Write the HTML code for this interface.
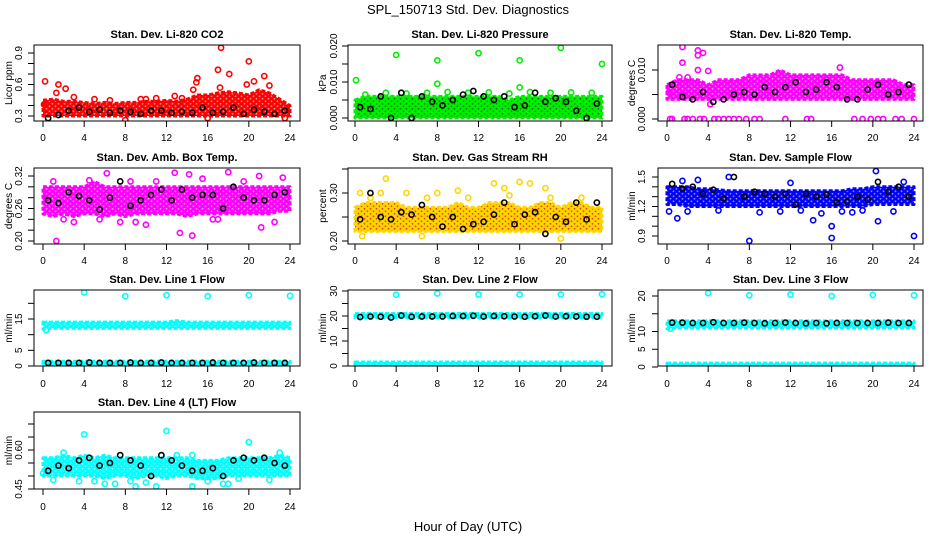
<!DOCTYPE html>
<html><head><meta charset="utf-8">
<style>
body{margin:0;background:#fff;}
svg{display:block;font-family:"Liberation Sans",sans-serif;}
</style></head>
<body>
<svg id="c" width="936" height="540" viewBox="0 0 936 540">
<defs id="defs"></defs>
<text x="468" y="14" text-anchor="middle" font-size="13">SPL_150713  Std. Dev. Diagnostics</text>
<text x="468" y="531" text-anchor="middle" font-size="13">Hour of Day (UTC)</text>
</svg>
<script>
// ---- data (hours 0..24 for bands; black points at 0.5..23.5) ----
const bandHours = [0,1,2,3,4,5,6,7,8,9,10,11,12,13,14,15,16,17,18,19,20,21,22,23,24];
const blackHours = [0.5,1.5,2.5,3.5,4.5,5.5,6.5,7.5,8.5,9.5,10.5,11.5,12.5,13.5,14.5,15.5,16.5,17.5,18.5,19.5,20.5,21.5,22.5,23.5];

const co2Lo = [0.30,0.30,0.30,0.30,0.30,0.30,0.30,0.30,0.30,0.30,0.30,0.30,0.30,0.30,0.30,0.30,0.30,0.30,0.30,0.30,0.30,0.30,0.30,0.30,0.30];
const co2Hi = [0.45,0.46,0.44,0.44,0.43,0.42,0.43,0.42,0.43,0.43,0.44,0.44,0.45,0.44,0.46,0.50,0.50,0.52,0.53,0.52,0.50,0.55,0.52,0.46,0.40];
const co2OutX = [0.2,1.5,2.2,1.3,12.8,14.6,15,14.9,17,17.3,18.1,19.8,20,20.5,21.5,17.2,22,8,16,23.5,0.1,11,5,9.5,3,6.5,10,13.5];
const co2OutY = [0.63,0.60,0.56,0.52,0.49,0.55,0.66,0.62,0.74,0.95,0.70,0.60,0.82,0.63,0.68,0.57,0.59,0.26,0.28,0.28,0.41,0.47,0.46,0.46,0.48,0.45,0.46,0.47];
const co2Black = [0.28,0.31,0.35,0.38,0.34,0.36,0.33,0.35,0.34,0.32,0.35,0.35,0.33,0.34,0.33,0.38,0.33,0.34,0.38,0.32,0.36,0.34,0.32,0.35];

const presLo = [0,0,0,0,0,0,0,0,0,0,0,0,0,0,0,0,0,0,0,0,0,0,0,0,0];
const presHi = [0.005,0.006,0.006,0.006,0.006,0.006,0.006,0.006,0.006,0.006,0.006,0.006,0.006,0.006,0.006,0.005,0.006,0.006,0.006,0.006,0.006,0.006,0.006,0.006,0.006];
const presOutX = [0.1,4,8,8,12,16,16,20,24,1,3,5,7,9,11,13,15,17,19,21,23];
const presOutY = [0.0105,0.0175,0.016,0.0095,0.018,0.016,0.0085,0.0195,0.015,0.0065,0.007,0.0068,0.007,0.0072,0.007,0.0071,0.0068,0.0072,0.007,0.0071,0.007];
const presBlack = [0.003,0.0025,0.006,0,0.007,0,0.006,0.0045,0.0035,0.005,0.0065,0.0075,0.006,0.005,0.006,0.003,0.0035,0.007,0.0045,0.0055,0.0045,0.002,0,0.004];

const tempLo = [0.004,0.004,0.004,0.004,0.004,0.004,0.004,0.004,0.004,0.004,0.004,0.004,0.004,0.004,0.004,0.004,0.004,0.004,0.004,0.004,0.004,0.004,0.004,0.004,0.004];
const tempHi = [0.007,0.008,0.008,0.008,0.007,0.008,0.008,0.008,0.009,0.009,0.009,0.010,0.009,0.009,0.009,0.009,0.009,0.009,0.008,0.008,0.008,0.008,0.008,0.007,0.007];
const tempOutX = [1.5,3,3.5,3.0,1.5,3,4,2.0,16.8,0.3,0.5,1.7,2,2.5,3.2,3.6,4.6,5,5.5,6,6.5,7,7.7,8.5,9,11.5,13.6,14,18.2,19,19.8,20.5,21,22.2,22.8,24,0.2,1.2,4.2];
const tempOutY = [0.0147,0.014,0.0135,0.013,0.0115,0.010,0.0098,0.0085,0.0105,0,0,0,0,0,0,0,0,0,0,0,0,0,0,0,0,0,0,0,0,0,0,0,0,0,0,0,0.0055,0.0085,0.003];
const tempBlack = [0.007,0.0045,0.004,0.0055,0.0035,0.004,0.005,0.0055,0.005,0.0065,0.0055,0.0065,0.0075,0.0055,0.006,0.0075,0.0065,0.004,0.004,0.006,0.007,0.005,0.0055,0.007];

const ambLo = [0.25,0.245,0.25,0.245,0.25,0.25,0.245,0.25,0.245,0.25,0.25,0.25,0.25,0.25,0.245,0.25,0.25,0.25,0.25,0.25,0.25,0.25,0.25,0.255,0.255];
const ambHi = [0.30,0.30,0.30,0.30,0.30,0.31,0.30,0.30,0.30,0.30,0.30,0.30,0.30,0.30,0.30,0.30,0.30,0.30,0.30,0.30,0.30,0.30,0.30,0.30,0.30];
const ambOutX = [1.3,14.5,13.3,6.2,12.8,14.2,18,21,23.3,10,21.2,3,7.5,9,16.5,22.5,1,4.5,8.5,11,15.5,19.5,2,5.5,17];
const ambOutY = [0.20,0.21,0.215,0.325,0.326,0.323,0.327,0.32,0.317,0.23,0.225,0.235,0.235,0.235,0.24,0.235,0.31,0.312,0.31,0.31,0.315,0.31,0.24,0.24,0.24];
const ambBlack = [0.275,0.27,0.29,0.283,0.275,0.258,0.28,0.31,0.265,0.275,0.285,0.295,0.275,0.295,0.28,0.285,0.285,0.26,0.30,0.28,0.275,0.275,0.285,0.29];

const rhLo = [0.22,0.22,0.22,0.22,0.22,0.22,0.22,0.22,0.22,0.22,0.22,0.22,0.22,0.22,0.22,0.22,0.22,0.22,0.22,0.22,0.22,0.22,0.22,0.22,0.22];
const rhHi = [0.27,0.28,0.28,0.28,0.28,0.27,0.27,0.27,0.27,0.27,0.28,0.27,0.27,0.28,0.28,0.28,0.27,0.27,0.28,0.28,0.27,0.28,0.28,0.27,0.27];
const rhOutX = [0.5,3,4,5,10,14.5,16,17,18.5,13.5,0.7,6.5,20,2.5,8,1.5,7,11,15,19,22];
const rhOutY = [0.30,0.33,0.36,0.30,0.305,0.31,0.323,0.32,0.31,0.32,0.21,0.21,0.205,0.30,0.30,0.29,0.29,0.29,0.295,0.29,0.29];
const rhBlack = [0.245,0.30,0.25,0.245,0.26,0.255,0.275,0.25,0.23,0.25,0.225,0.235,0.24,0.255,0.28,0.235,0.255,0.26,0.215,0.25,0.24,0.28,0.245,0.28];

const flowLo = [1.22,1.22,1.2,1.2,1.2,1.2,1.2,1.2,1.2,1.2,1.2,1.2,1.2,1.2,1.2,1.2,1.2,1.2,1.2,1.2,1.22,1.22,1.22,1.22,1.22];
const flowHi = [1.40,1.40,1.40,1.38,1.38,1.37,1.36,1.36,1.36,1.36,1.36,1.36,1.36,1.36,1.36,1.36,1.36,1.36,1.38,1.38,1.40,1.40,1.40,1.40,1.40];
const flowOutX = [8,16,16,24,20.5,14.2,1,0.2,6,20.3,1.5,23,3,12,18,2,5,9,11,13,15,17,19,22];
const flowOutY = [0.85,0.88,1.0,0.9,1.05,1.06,1.08,1.15,1.5,1.56,1.46,1.45,1.47,1.44,1.14,1.15,1.16,1.14,1.15,1.16,1.13,1.15,1.16,1.15];
const flowBlack = [1.43,1.38,1.40,1.33,1.37,1.28,1.50,1.30,1.35,1.33,1.30,1.33,1.22,1.33,1.30,1.32,1.24,1.25,1.30,1.27,1.45,1.35,1.40,1.30];

const l1Lo = [11.8,12,12,12,12,12,12,12,12,12,12,12,12,12,12,12,12,12,12,12,12,12,12,12,12];
const l1Hi = [14,14,14,14,14,14,14,14,14,14,14,14,14,14.5,14,14,14,14,14,14,14,14,14,14,14];
const l1Lo2 = [0.3,0.3,0.3,0.3,0.3,0.3,0.3,0.3,0.3,0.3,0.3,0.3,0.3,0.3,0.3,0.3,0.3,0.3,0.3,0.3,0.3,0.3,0.3,0.3,0.3];
const l1Hi2 = [1.5,1.5,1.5,1.5,1.5,1.5,1.5,1.5,1.5,1.5,1.5,1.5,1.5,1.5,1.5,1.5,1.5,1.5,1.5,1.5,1.5,1.5,1.5,1.5,1.5];
const l1OutX = [4,8,12,16,20,24,0.3];
const l1OutY = [23.5,22.3,22.6,22.3,22.6,22.4,11.5];
const l1Black = [1,1,1,1,1.1,1,1,1,1.1,1,1,1.1,1,1,1,1,1.1,1,1,1,1.1,1,1,1];

const l2Lo = [19.3,19.3,19.3,19.3,19.3,19.3,19.3,19.3,19.3,19.3,19.3,19.3,19.3,19.3,19.3,19.3,19.3,19.3,19.3,19.3,19.3,19.3,19.3,19.3,19.3];
const l2Hi = [21,21,21,21,21,21,21,21,21,21,21,21,21,21,21,21,21,21,21,21,21,21,21,21,21];
const l2Lo2 = [0,0,0,0,0,0,0,0,0,0,0,0,0,0,0,0,0,0,0,0,0,0,0,0,0];
const l2Hi2 = [1.6,1.6,1.6,1.6,1.6,1.6,1.6,1.6,1.6,1.6,1.6,1.6,1.6,1.6,1.6,1.6,1.6,1.6,1.6,1.6,1.6,1.6,1.6,1.6,1.6];
const l2OutX = [4,8,12,16,20,24];
const l2OutY = [28.5,29,28.6,28.6,28.6,28.7];
const l2Black = [19.6,19.8,19.7,19.4,20.2,19.7,19.8,19.8,19.8,20.0,20.0,20.1,19.8,20.0,19.9,19.8,19.7,19.9,20.2,19.8,19.9,19.8,19.7,19.7];

const l3Lo = [10.8,11,11,11,11,11,11,11,11,11,11,11,11,11,11,11,11,11,11,11,11,11,11,11,11];
const l3Hi = [13,13,13,13,13,13,13,13,13,13,13,13,13,13,13,13,13,13,13,13,13,13,13,13,13];
const l3Lo2 = [0,0,0,0,0,0,0,0,0,0,0,0,0,0,0,0,0,0,0,0,0,0,0,0,0];
const l3Hi2 = [1.1,1.1,1.1,1.1,1.1,1.1,1.1,1.1,1.1,1.1,1.1,1.1,1.1,1.1,1.1,1.1,1.1,1.1,1.1,1.1,1.1,1.1,1.1,1.1,1.1];
const l3OutX = [4,8,12,16,20,24,0.3];
const l3OutY = [20.8,20.2,20.4,20.0,20.3,20.2,10.8];
const l3Black = [12.5,12.5,12.4,12.4,12.6,12.4,12.4,12.5,12.4,12.3,12.4,12.5,12.4,12.3,12.4,12.3,12.4,12.4,12.4,12.4,12.4,12.5,12.4,12.4];

const l4Lo = [0.50,0.50,0.50,0.50,0.50,0.50,0.49,0.50,0.50,0.49,0.50,0.50,0.49,0.50,0.50,0.49,0.49,0.49,0.50,0.50,0.50,0.50,0.50,0.50,0.50];
const l4Hi = [0.57,0.57,0.58,0.57,0.58,0.57,0.58,0.57,0.57,0.57,0.57,0.57,0.57,0.57,0.57,0.56,0.56,0.56,0.57,0.57,0.57,0.57,0.57,0.58,0.57];
const l4OutX = [4,12,20,2,14.5,13,6,14.5,9,11,0,18,1,3.5,5,7,8.5,10,16,17.5,19,22,23];
const l4OutY = [0.66,0.673,0.63,0.59,0.58,0.58,0.47,0.46,0.46,0.46,0.51,0.47,0.485,0.48,0.48,0.47,0.48,0.475,0.48,0.47,0.49,0.485,0.59];
const l4Black = [0.52,0.54,0.53,0.56,0.57,0.54,0.55,0.58,0.56,0.54,0.50,0.58,0.56,0.54,0.52,0.52,0.53,0.50,0.56,0.57,0.56,0.57,0.55,0.54];

const xTicks = [0,4,8,12,16,20,24];

// ---- layout ----
const cols = [{l:34,r:300,x0:43,x24:290,lab:18,tit:8},{l:348,r:612,x0:355,x24:602,lab:333,tit:322},{l:658,r:923,x0:667,x24:914,lab:641,tit:631}];
const rows = [{t:45,b:121,lab:141,title:38},{t:168,b:244,lab:264,title:161},{t:290,b:366,lab:387,title:283},{t:412,b:489,lab:510,title:406}];

const panels = [
 {name:'co2',title:'Stan. Dev. Li-820 CO2',ylab:'Licor ppm',c:0,r:0,v0:0.3,p0:116,v1:0.9,p1:53,ticks:[0.3,0.4,0.5,0.6,0.7,0.8,0.9],labels:[0.3,0.6,0.9],dec:1,col:'#ff0000',inner:'#ff0000',lo:co2Lo,hi:co2Hi,ox:co2OutX,oy:co2OutY,bk:co2Black},
 {name:'pressure',title:'Stan. Dev. Li-820 Pressure',ylab:'kPa',c:1,r:0,v0:0,p0:118,v1:0.02,p1:46,ticks:[0,0.005,0.01,0.015,0.02],labels:[0,0.01,0.02],dec:3,col:'#00ee00',inner:'#007a00',lo:presLo,hi:presHi,ox:presOutX,oy:presOutY,bk:presBlack},
 {name:'licor-temp',title:'Stan. Dev. Li-820 Temp.',ylab:'degrees C',c:2,r:0,v0:0,p0:119,v1:0.01,p1:70,ticks:[0,0.005,0.01],labels:[0,0.01],dec:3,col:'#ff00ff',inner:'#ff00ff',lo:tempLo,hi:tempHi,ox:tempOutX,oy:tempOutY,bk:tempBlack},
 {name:'amb-temp',title:'Stan. Dev. Amb. Box Temp.',ylab:'degrees C',c:0,r:1,v0:0.2,p0:241,v1:0.32,p1:176,ticks:[0.2,0.22,0.24,0.26,0.28,0.3,0.32],labels:[0.2,0.26,0.32],dec:2,col:'#ff00ff',inner:'#ff00ff',lo:ambLo,hi:ambHi,ox:ambOutX,oy:ambOutY,bk:ambBlack},
 {name:'rh',title:'Stan. Dev. Gas Stream RH',ylab:'percent',c:1,r:1,v0:0.2,p0:241,v1:0.3,p1:193,ticks:[0.2,0.25,0.3,0.35],labels:[0.2,0.3],dec:2,col:'#ffd700',inner:'#e83000',lo:rhLo,hi:rhHi,ox:rhOutX,oy:rhOutY,bk:rhBlack},
 {name:'sample-flow',title:'Stan. Dev. Sample Flow',ylab:'ml/min',c:2,r:1,v0:0.9,p0:236,v1:1.5,p1:177,ticks:[0.9,1.0,1.1,1.2,1.3,1.4,1.5],labels:[0.9,1.2,1.5],dec:1,col:'#0000ff',inner:'#0000ff',lo:flowLo,hi:flowHi,ox:flowOutX,oy:flowOutY,bk:flowBlack},
 {name:'line1',title:'Stan. Dev. Line 1 Flow',ylab:'ml/min',c:0,r:2,v0:0,p0:366,v1:15,p1:319,ticks:[0,5,10,15,20],labels:[0,5,15],dec:0,col:'#00ffff',inner:'#00ffff',lo:l1Lo,hi:l1Hi,lo2:l1Lo2,hi2:l1Hi2,ox:l1OutX,oy:l1OutY,bk:l1Black},
 {name:'line2',title:'Stan. Dev. Line 2 Flow',ylab:'ml/min',c:1,r:2,v0:0,p0:366,v1:30,p1:291,ticks:[0,5,10,15,20,25,30],labels:[0,10,20,30],dec:0,col:'#00ffff',inner:'#00ffff',lo:l2Lo,hi:l2Hi,lo2:l2Lo2,hi2:l2Hi2,ox:l2OutX,oy:l2OutY,bk:l2Black},
 {name:'line3',title:'Stan. Dev. Line 3 Flow',ylab:'ml/min',c:2,r:2,v0:0,p0:367,v1:20,p1:296,ticks:[0,5,10,15,20],labels:[0,5,10,20],dec:0,col:'#00ffff',inner:'#00ffff',lo:l3Lo,hi:l3Hi,lo2:l3Lo2,hi2:l3Hi2,ox:l3OutX,oy:l3OutY,bk:l3Black},
 {name:'line4',title:'Stan. Dev. Line 4 (LT) Flow',ylab:'ml/min',c:0,r:3,v0:0.45,p0:489,v1:0.6,p1:450,ticks:[0.45,0.5,0.55,0.6,0.65,0.7],labels:[0.45,0.6],dec:2,col:'#00ffff',inner:'#00ffff',lo:l4Lo,hi:l4Hi,ox:l4OutX,oy:l4OutY,bk:l4Black}
];

const svg = document.getElementById('c');
const defs = document.getElementById('defs');
const NS = 'http://www.w3.org/2000/svg';
function mk(tag, attrs, parent){
  const e = document.createElementNS(NS, tag);
  for (const k in attrs) e.setAttribute(k, attrs[k]);
  parent.appendChild(e);
  return e;
}

panels.forEach(p=>{
  const C = cols[p.c], R = rows[p.r];
  const xs = h => C.x0 + (C.x24 - C.x0) * h / 24;
  const ys = v => p.p0 + (p.p1 - p.p0) * (v - p.v0) / (p.v1 - p.v0);

  // texture pattern mimicking overlapping open circles
  const patId = 'pat-' + p.name;
  const pat = mk('pattern', {id: patId, patternUnits: 'userSpaceOnUse', width: 6, height: 5}, defs);
  mk('rect', {x: 0, y: 0, width: 6, height: 5, fill: p.col}, pat);
  mk('circle', {cx: 1.5, cy: 1.3, r: 0.9, fill: (p.inner === p.col ? '#ffffff' : p.inner), opacity: (p.inner === p.col ? 0.55 : 0.9)}, pat);
  mk('circle', {cx: 4.5, cy: 3.8, r: 0.9, fill: (p.inner === p.col ? '#ffffff' : p.inner), opacity: (p.inner === p.col ? 0.55 : 0.9)}, pat);

  const g = mk('g', {}, svg);
  
  
  const clipId = 'clip-' + p.name;
  const cp = mk('clipPath', {id: clipId}, g);
  mk('rect', {x: C.l, y: R.t, width: C.r - C.l, height: R.b - R.t}, cp);
  const plot = mk('g', {'clip-path': 'url(#' + clipId + ')'}, g);
  
  

  function band(lo, hi){
    let d = '';
    bandHours.forEach((h,i)=>{ d += (i ? 'L' : 'M') + xs(h).toFixed(1) + ',' + ys(hi[i]).toFixed(1); });
    for (let i = bandHours.length - 1; i >= 0; i--) d += 'L' + xs(bandHours[i]).toFixed(1) + ',' + ys(lo[i]).toFixed(1);
    d += 'Z';
    const b = mk('path', {d: d, fill: 'url(#' + patId + ')', stroke: p.col, 'stroke-width': 3, 'stroke-dasharray': '4 2', 'stroke-linejoin': 'round'}, plot);
    
    
  }
  band(p.lo, p.hi);
  if (p.lo2) band(p.lo2, p.hi2);

  p.ox.forEach((h,i)=>{
    const c = mk('circle', {cx: xs(h), cy: ys(p.oy[i]), r: 2.6, fill: 'none', stroke: p.col, 'stroke-width': 1.6}, plot);
    
    
  });
  p.bk.forEach((v,i)=>{
    const c = mk('circle', {cx: xs(blackHours[i]), cy: ys(v), r: 2.6, fill: 'none', stroke: '#000', 'stroke-width': 1.6}, plot);
    
    
  });

  const box = mk('rect', {x: C.l, y: R.t, width: C.r - C.l, height: R.b - R.t, fill: 'none', stroke: '#000', 'stroke-width': 1}, g);
  
  

  const t = mk('text', {x: (C.l + C.r) / 2, y: R.title, 'text-anchor': 'middle', 'font-size': 11, 'font-weight': 'bold'}, g);
  t.textContent = p.title;
  
  

  const xa = mk('g', {}, g);
  
  
  mk('line', {x1: xs(0), x2: xs(24), y1: R.b, y2: R.b, stroke: '#000'}, xa);
  xTicks.forEach(h=>{
    mk('line', {x1: xs(h), x2: xs(h), y1: R.b, y2: R.b + 6, stroke: '#000'}, xa);
    const l = mk('text', {x: xs(h), y: R.lab, 'text-anchor': 'middle', 'font-size': 10}, xa);
    l.textContent = h;
    
    
  });
  const ya = mk('g', {}, g);
  
  
  p.ticks.forEach(v=>{
    mk('line', {x1: C.l - 6, x2: C.l, y1: ys(v), y2: ys(v), stroke: '#000'}, ya);
  });
  p.labels.forEach(v=>{
    const y = ys(v);
    const l = mk('text', {x: C.lab + 4, y: y, 'text-anchor': 'middle', 'font-size': 10, transform: 'rotate(-90 ' + (C.lab + 4) + ' ' + y + ')'}, ya);
    l.textContent = v.toFixed(p.dec);
    
    
  });
  const yc = (R.t + R.b) / 2;
  const yt = mk('text', {x: C.tit + 4, y: yc, 'text-anchor': 'middle', 'font-size': 10, transform: 'rotate(-90 ' + (C.tit + 4) + ' ' + yc + ')'}, ya);
  yt.textContent = p.ylab;
  
  
});
</script>
</body></html>
